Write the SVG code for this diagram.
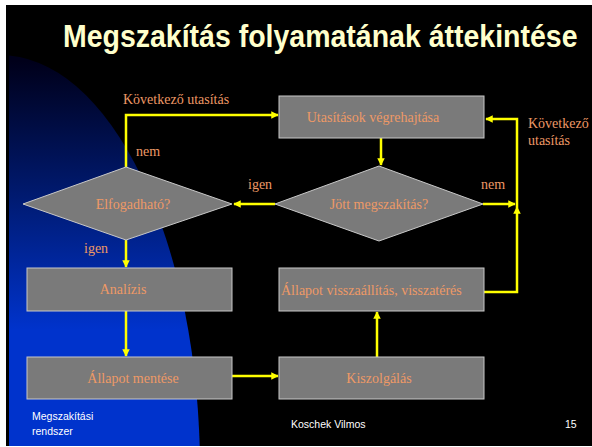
<svg xmlns="http://www.w3.org/2000/svg" width="592" height="447" viewBox="0 0 592 447">
<defs>
<linearGradient id="bg" x1="0" y1="61" x2="0" y2="330" gradientUnits="userSpaceOnUse">
<stop offset="0" stop-color="#00001a"/>
<stop offset="0.5" stop-color="#001a70"/>
<stop offset="1" stop-color="#0033cc"/>
</linearGradient>
<clipPath id="slide"><rect x="9" y="5" width="583" height="441"/></clipPath>
<marker id="ah" viewBox="0 0 10 10" refX="9" refY="5" markerWidth="3" markerHeight="3" orient="auto" markerUnits="strokeWidth">
<path d="M0,0 L10,5 L0,10 z" fill="#ffff00"/>
</marker>
</defs>
<style>
.box{fill:#7a7a7a;stroke:#c8c8c8;stroke-width:1}
.t{font-family:"Liberation Serif","Times New Roman",serif;font-size:14px;fill:#ee9966}
.c{text-anchor:middle}
.lbl{font-family:"Liberation Serif","Times New Roman",serif;font-size:14px;fill:#ee9966}
.ln{fill:none;stroke:#ffff00;stroke-width:2.5}
.arr{marker-end:url(#ah)}
.foot{font-family:"Liberation Sans",Arial,sans-serif;font-size:10.5px;fill:#ffffff}
</style>
<rect x="0" y="0" width="592" height="447" fill="#ffffff"/>
<rect x="6" y="5" width="586" height="441" fill="#000000"/>
<ellipse cx="0" cy="470" rx="200" ry="415" fill="url(#bg)" clip-path="url(#slide)"/>
<text transform="scale(0.862 1)" x="73" y="47" textLength="597" lengthAdjust="spacingAndGlyphs" font-family="Liberation Sans, Arial, sans-serif" font-weight="bold" font-size="32" fill="#ffffcc">Megszakítás folyamatának áttekintése</text>

<g id="connectors">
<polyline class="ln arr" points="126,167 126,115 278,115"/>
<line class="ln arr" x1="381" y1="138" x2="381" y2="165"/>
<line class="ln arr" x1="275" y1="204" x2="234" y2="204"/>
<line class="ln arr" x1="483" y1="204" x2="515" y2="204"/>
<polyline class="ln arr" points="484,292 517,292 517,207"/>
<polyline class="ln arr" points="517,207 517,119 486,119"/>
<line class="ln arr" x1="126" y1="240" x2="126" y2="267"/>
<line class="ln arr" x1="126" y1="311" x2="126" y2="356"/>
<line class="ln arr" x1="232" y1="376" x2="278" y2="376"/>
<line class="ln arr" x1="377" y1="357" x2="377" y2="312"/>
</g>

<g id="n-utasitasok">
<rect class="box" x="279" y="96" width="205" height="42"/>
<text class="t c" x="373" y="122">Utasítások végrehajtása</text>
</g>
<g id="n-elfogadhato">
<polygon class="box" points="126,167 232,204 126,240 23,204"/>
<text class="t c" x="133" y="209">Elfogadható?</text>
</g>
<g id="n-jott">
<polygon class="box" points="379,166 483,204 379,241 275,204"/>
<text class="t c" x="379" y="209">Jött megszakítás?</text>
</g>
<g id="n-analizis">
<rect class="box" x="27" y="268" width="205" height="43"/>
<text class="t c" x="123" y="294">Analízis</text>
</g>
<g id="n-mentes">
<rect class="box" x="27" y="357" width="205" height="42"/>
<text class="t c" x="133" y="383">Állapot mentése</text>
</g>
<g id="n-visszaallitas">
<rect class="box" x="279" y="268" width="205" height="43"/>
<text class="t" x="281" y="295">Állapot visszaállítás, visszatérés</text>
</g>
<g id="n-kiszolgalas">
<rect class="box" x="279" y="357" width="205" height="42"/>
<text class="t c" x="379" y="383">Kiszolgálás</text>
</g>

<g id="labels">
<text class="lbl" x="123" y="104">Következő utasítás</text>
<text class="lbl" x="136" y="156">nem</text>
<text class="lbl" x="248" y="189">igen</text>
<text class="lbl" x="481" y="189">nem</text>
<text class="lbl" x="528" y="128">Következő</text>
<text class="lbl" x="528" y="145">utasítás</text>
<text class="lbl" x="84" y="253">igen</text>
</g>

<g id="footer">
<text class="foot" x="32" y="420">Megszakítási</text>
<text class="foot" x="32" y="435">rendszer</text>
<text class="foot" x="291" y="428">Koschek Vilmos</text>
<text class="foot" x="565" y="428">15</text>
</g>
</svg>
